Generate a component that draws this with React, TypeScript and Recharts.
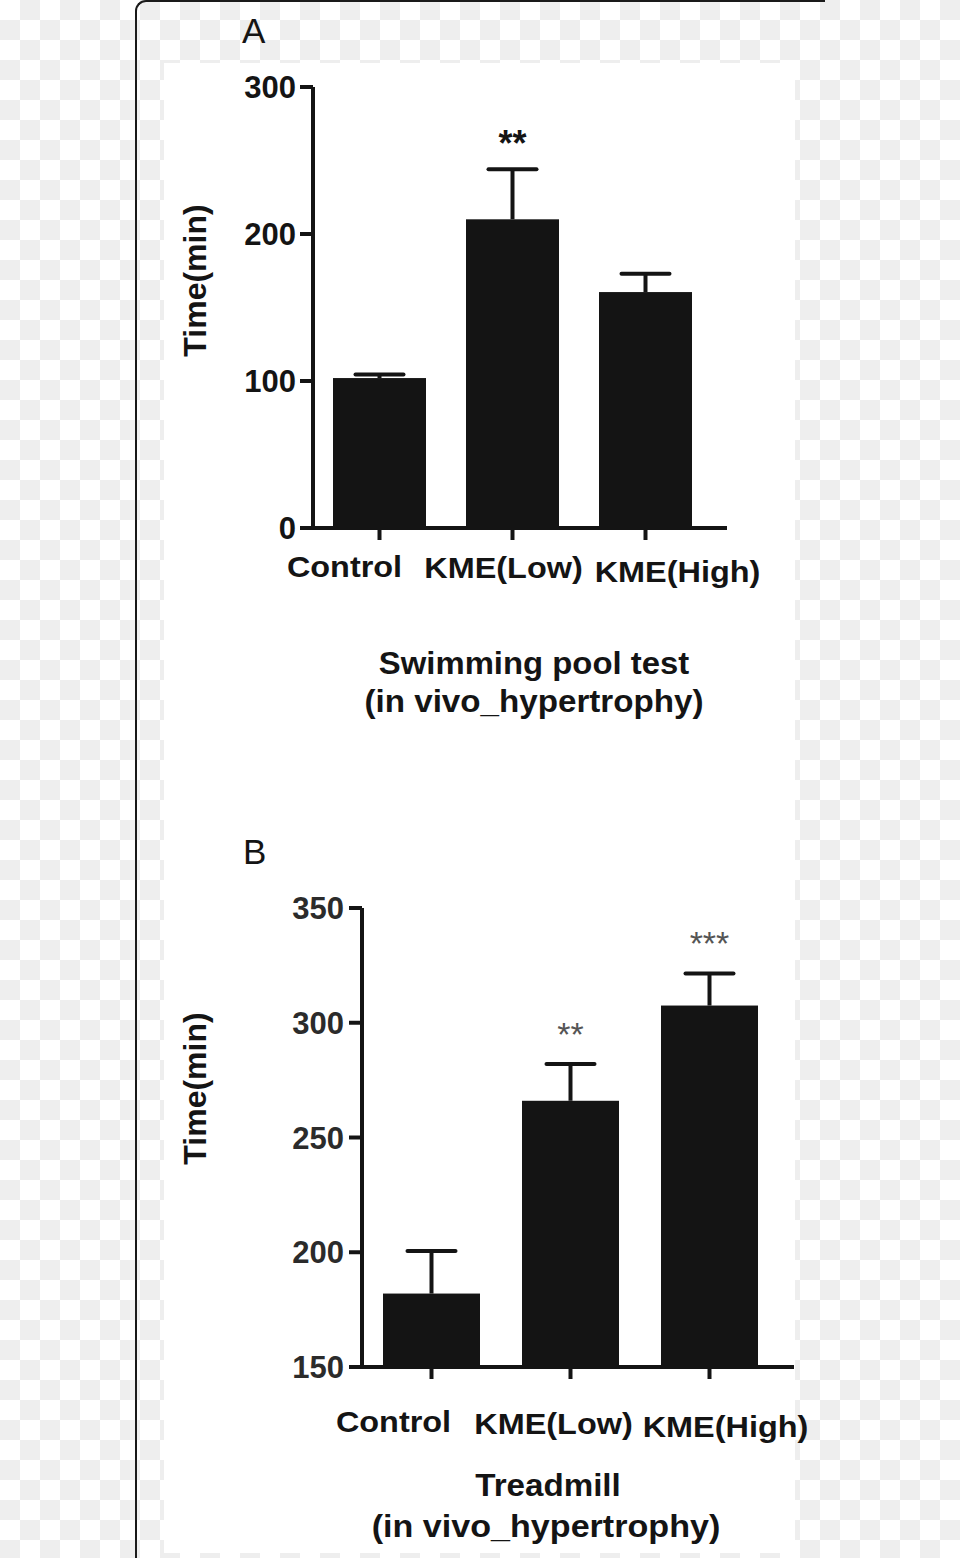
import React from "react";
import { BarChart, Bar, XAxis, YAxis, Label } from "recharts";

// groups and readings, estimated off the figure
const groups = ["Control", "KME(Low)", "KME(High)"];

const swimMean = [102, 210, 160.5];
const swimSem = [2.5, 34, 12.5];
const swimStars = ["", "**", ""];
const swimTicks = [0, 100, 200, 300];

const treadMean = [182, 266, 307.5];
const treadSem = [18.5, 16, 14];
const treadStars = ["", "**", "***"];
const treadTicks = [150, 200, 250, 300, 350];

const swimData = groups.map((group, i) => ({
  group,
  mean: swimMean[i],
  sem: swimSem[i],
  stars: swimStars[i]
}));

const treadData = groups.map((group, i) => ({
  group,
  mean: treadMean[i],
  sem: treadSem[i],
  stars: treadStars[i]
}));

const FONT = '"Liberation Sans", Arial, Helvetica, sans-serif';
const INK = "#141414";

interface StarStyle {
  size: number;
  color: string;
  weight: string;
  lift: number;
}

// bar + one-sided SEM whisker + significance stars
const barWithError = (base: number, rows: typeof swimData, star: StarStyle) => (props: any) => {
  const { x, y, width, height, index } = props;
  const row = props.payload ?? rows[index];
  const k = height / (row.mean - base);
  const top = y - row.sem * k;
  const cx = x + width / 2;
  return (
    <g>
      <rect x={x} y={y} width={width} height={height} fill={INK} />
      <line x1={cx} x2={cx} y1={y} y2={top} stroke={INK} strokeWidth={4} />
      <line
        x1={cx - 24}
        x2={cx + 24}
        y1={top}
        y2={top}
        stroke={INK}
        strokeWidth={4}
        strokeLinecap="round"
      />
      {row.stars ? (
        <text
          x={cx}
          y={top - star.lift}
          textAnchor="middle"
          fontFamily={FONT}
          fontSize={star.size}
          fontWeight={star.weight}
          fill={star.color}
        >
          {row.stars}
        </text>
      ) : null}
    </g>
  );
};

const groupTick = (nudge: { dx: number; dy: number }[]) => (props: any) => {
  const { x, y, payload, index } = props;
  const n = nudge[index] ?? { dx: 0, dy: 0 };
  return (
    <g transform={`translate(${x + n.dx},${y + n.dy}) scale(1.08,1)`}>
      <text
        x={0}
        y={0}
        textAnchor="middle"
        dominantBaseline="central"
        fontFamily={FONT}
        fontWeight="bold"
        fontSize={30}
        fill={INK}
      >
        {payload.value}
      </text>
    </g>
  );
};

const yTitle = (dx: number, shift: number) => (props: any) => {
  const vb = props.viewBox;
  const x = vb.x + dx;
  const y = vb.y + vb.height / 2 + shift;
  return (
    <text
      x={x}
      y={y}
      transform={`rotate(-90 ${x} ${y})`}
      textAnchor="middle"
      dominantBaseline="central"
      fontFamily={FONT}
      fontWeight="bold"
      fontSize={32}
      fill={INK}
    >
      Time(min)
    </text>
  );
};

const axisStroke = { stroke: INK, strokeWidth: 4 };

export default function App() {
  return (
    <div
      style={{
        position: "absolute",
        left: 0,
        top: 0,
        width: 960,
        height: 1558,
        overflow: "hidden",
        backgroundColor: "#ffffff",
        backgroundImage:
          "conic-gradient(#eeeeee 0 25%, #ffffff 0 50%, #eeeeee 0 75%, #ffffff 0)",
        backgroundSize: "40px 40px",
        fontFamily: FONT
      }}
    >
      <div
        style={{
          position: "absolute",
          left: 135,
          top: 0,
          width: 690,
          height: 1600,
          boxSizing: "border-box",
          borderTop: "2px solid #1a1a1a",
          borderLeft: "2px solid #1a1a1a",
          borderTopLeftRadius: 11
        }}
      />
      <div
        style={{
          position: "absolute",
          left: 164,
          top: 63,
          width: 631,
          height: 1490,
          background: "#ffffff"
        }}
      />

      <div style={{ position: "absolute", left: 0, top: 0 }}>
        <BarChart
          width={960}
          height={620}
          data={swimData}
          margin={{ top: 87, right: 233, bottom: 32, left: 165 }}
        >
          <XAxis
            dataKey="group"
            height={60}
            interval={0}
            padding={{ left: 0, right: 15 }}
            axisLine={axisStroke}
            tickLine={axisStroke}
            tickSize={12}
            tick={groupTick([
              { dx: -35, dy: 25 },
              { dx: -9, dy: 26 },
              { dx: 32, dy: 30 }
            ])}
          />
          <YAxis
            type="number"
            width={148}
            domain={[0, 300]}
            ticks={swimTicks}
            axisLine={axisStroke}
            tickLine={axisStroke}
            tickSize={13}
            tickMargin={4}
            tick={{ fill: INK, fontSize: 31, fontWeight: "bold", fontFamily: FONT }}
          >
            <Label content={yTitle(30, -27)} />
          </YAxis>
          <Bar
            dataKey="mean"
            barSize={93}
            isAnimationActive={false}
            shape={barWithError(0, swimData, { size: 36, color: INK, weight: "bold", lift: 13 })}
          />
        </BarChart>
      </div>

      <div style={{ position: "absolute", left: 0, top: 840 }}>
        <BarChart
          width={960}
          height={620}
          data={treadData}
          margin={{ top: 68, right: 166, bottom: 33, left: 214 }}
        >
          <XAxis
            dataKey="group"
            height={60}
            interval={0}
            padding={{ left: 0, right: 15 }}
            axisLine={axisStroke}
            tickLine={axisStroke}
            tickSize={12}
            tick={groupTick([
              { dx: -38, dy: 41 },
              { dx: -17, dy: 43 },
              { dx: 16, dy: 46 }
            ])}
          />
          <YAxis
            type="number"
            width={148}
            domain={[150, 350]}
            ticks={treadTicks}
            axisLine={axisStroke}
            tickLine={axisStroke}
            tickSize={13}
            tickMargin={5}
            tick={{ fill: "#2b2b2b", fontSize: 31, fontWeight: "bold", fontFamily: FONT }}
          >
            <Label content={yTitle(-19, -49)} />
          </YAxis>
          <Bar
            dataKey="mean"
            barSize={97}
            isAnimationActive={false}
            shape={barWithError(150, treadData, { size: 34, color: "#555555", weight: "normal", lift: 18 })}
          />
        </BarChart>
      </div>

      <svg
        width={960}
        height={1558}
        style={{ position: "absolute", left: 0, top: 0, pointerEvents: "none" }}
      >
        <g fontFamily={FONT} fill={INK}>
          <text x={242} y={43} fontSize={35}>
            A
          </text>
          <text x={243} y={864} fontSize={35}>
            B
          </text>
          <g fontWeight="bold" fontSize={31} textAnchor="middle">
            <text transform="translate(534,674) scale(1.06,1)">Swimming pool test</text>
            <text transform="translate(534,712) scale(1.07,1)">(in vivo_hypertrophy)</text>
            <text transform="translate(548,1496) scale(1.07,1)">Treadmill</text>
            <text transform="translate(546,1537) scale(1.1,1)">(in vivo_hypertrophy)</text>
          </g>
        </g>
      </svg>
    </div>
  );
}
